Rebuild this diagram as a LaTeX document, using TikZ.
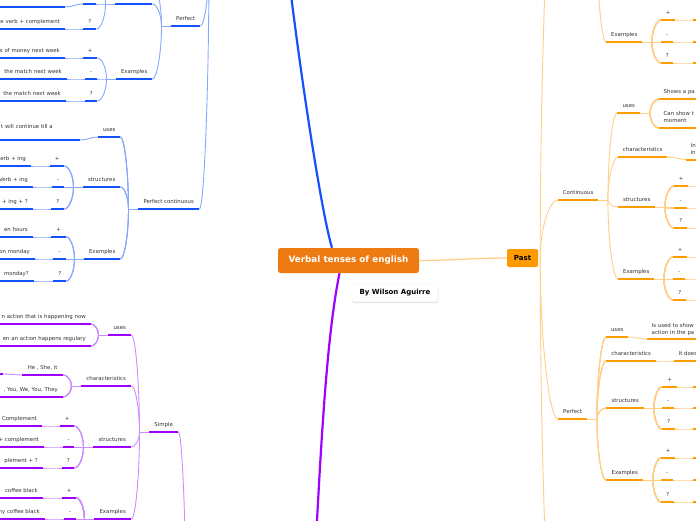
\documentclass[tikz,border=0pt]{standalone}
\usepackage{fontspec}
\setmainfont{DejaVu Sans}
\usepackage{tikz}
\usetikzlibrary{positioning, calc, shadows}
\definecolor{mm-root}{HTML}{EE7B12}
\definecolor{mm-past}{HTML}{FF9A00}
\definecolor{mm-text}{HTML}{333333}
\definecolor{fu-blue}{HTML}{1552FF}
\definecolor{fu-light}{HTML}{88A8FF}
\definecolor{pr-purple}{HTML}{A000FF}
\definecolor{pr-light}{HTML}{CC8CFF}
\definecolor{pa-orange}{HTML}{FF9C00}
\definecolor{pa-light}{HTML}{FFCF8A}

% child end -> joint of its parent
\newcommand{\mmlink}[3]{\draw[#1] (#2) .. controls ($(#2)!0.5!(#3|-#2)$) and ($(#3)!0.5!(#3|-#2)$) .. (#3);}

\tikzset{
    mmtext/.style={font=\fontsize{5.4}{6.8}\selectfont, text=mm-text, inner xsep=0pt, inner ysep=4pt},
    mmnode/.style={mmtext, anchor=south west, text height=4pt, text depth=1pt},
    leafL/.style={mmtext, anchor=south east, text width=100pt, align=right, inner xsep=5pt, text height=4pt, text depth=1pt},
    leafR/.style={mmtext, anchor=south west, text width=70pt, align=left, inner xsep=4.5pt, inner ysep=5pt},
    leafR1/.style={leafR, inner ysep=4pt, text height=4pt, text depth=1pt},
    fu line/.style={line width=2pt, fu-blue},
    fu link/.style={line width=0.9pt, fu-light},
    pr line/.style={line width=2pt, pr-purple},
    pr link/.style={line width=0.9pt, pr-light},
    pa line/.style={line width=2pt, pa-orange},
    pa link/.style={line width=0.9pt, pa-light},
}

\begin{document}
\begin{tikzpicture}[x=1pt, y=-1pt]
    \useasboundingbox (0,0) rectangle (696,520);
    \fill[white] (0,0) rectangle (696,520);
    \clip (0,0) rectangle (696,520);

    % central topic
    \node[fill=mm-root, rounded corners=2.5pt, minimum width=141pt, minimum height=25pt, inner sep=0pt, text=white, font=\fontsize{8.8}{10}\selectfont\bfseries] (root) at (348.5,260.5) {Verbal tenses of english};
    \node[fill=white, draw=black!8, rounded corners=2.5pt, minimum width=86pt, minimum height=18pt, inner sep=0pt, font=\fontsize{7}{8}\selectfont\bfseries, drop shadow={shadow xshift=0.3pt, shadow yshift=-1.2pt, opacity=0.25}] (author) at (395,293) {By Wilson Aguirre};
    \node[fill=mm-past, rounded corners=2pt, minimum width=31pt, minimum height=18pt, inner sep=0pt, font=\fontsize{7}{8}\selectfont\bfseries] (past) at (522.5,258) {Past};

    \coordinate (fuTop) at (288,-30);
    \coordinate (prTop) at (315,560);
    \draw[fu line, line width=2.2pt] ([xshift=-16.5pt]root.north) .. controls (322,215) and (301,80) .. (fuTop);
    \draw[pr line, line width=2.2pt] ([xshift=-9pt]root.south) .. controls (328,330) and (322,420) .. (prTop);
    \draw[pa link, line width=1.3pt] (root.east) to[out=0, in=180] (past.west);

    % blue branch: perfect
    \node[mmnode, minimum width=29pt] (fuPf) at (171,26) {Perfect};
    \node[mmnode, minimum width=37pt] (fuPfSt) at (115,4) {};
    \node[mmnode, minimum width=13pt] (fuPfStA) at (83,4) {};
    \node[mmnode, minimum width=13pt] (fuPfStB) at (83,29) {?};
    \node[mmnode, minimum width=36pt] (fuPfEx) at (116,79) {Examples};
    \node[mmnode, minimum width=14pt] (fuPfExA) at (83,58) {+};
    \node[mmnode, minimum width=12pt] (fuPfExB) at (85,79) {-};
    \node[mmnode, minimum width=12pt] (fuPfExC) at (85,101) {?};
    \node[leafL] (fuPfL1) at (65,7) {};
    \node[leafL] (fuPfL2) at (65,29) {e verb + complement};
    \node[leafL] (fuPfL3) at (65,58) {s of money next week};
    \node[leafL] (fuPfL4) at (67,79) {the match next week};
    \node[leafL] (fuPfL5) at (66,101) {the match next week};

    % blue branch: perfect continuous
    \node[mmnode, minimum width=61pt] (fuPc) at (138,209) {Perfect continuous};
    \node[mmnode, minimum width=22pt] (fuPcUs) at (98,137) {uses};
    \node[mmnode, minimum width=37pt] (fuPcSt) at (83,187) {structures};
    \node[mmnode, minimum width=14pt] (fuPcStA) at (50,166) {+};
    \node[mmnode, minimum width=12pt] (fuPcStB) at (52,187) {-};
    \node[mmnode, minimum width=13pt] (fuPcStC) at (51,209) {?};
    \node[mmnode, minimum width=36pt] (fuPcEx) at (84,259) {Examples};
    \node[mmnode, minimum width=15pt] (fuPcExA) at (51,237) {+};
    \node[mmnode, minimum width=13pt] (fuPcExB) at (53,259) {-};
    \node[mmnode, minimum width=13pt] (fuPcExC) at (53,281) {?};
    \node[leafL, text depth=7.8pt, inner xsep=27pt] (fuPcL0) at (80,140) {t will continue till a};
    \node[leafL] (fuPcL1) at (31,166) {erb + ing};
    \node[leafL] (fuPcL2) at (33,187) {Verb + ing};
    \node[leafL] (fuPcL3) at (33,209) {+ ing + ?};
    \node[leafL] (fuPcL4) at (33,237) {en hours};
    \node[leafL] (fuPcL5) at (35,259) {on monday};
    \node[leafL] (fuPcL6) at (34,281) {monday?};

    % purple branch: simple
    \node[mmnode, minimum width=29pt] (prSi) at (149,432) {Simple};
    \node[mmnode, minimum width=23pt] (prSiUs) at (108,335) {uses};
    \node[mmnode, minimum width=50pt] (prSiCh) at (81,386) {characteristics};
    \node[mmnode, minimum width=41pt] (prSiChA) at (22,375) {He , She, it};
    \node[mmnode, minimum width=38pt] (prSiSt) at (93,447) {structures};
    \node[mmnode, minimum width=14pt] (prSiStA) at (60,426) {+};
    \node[mmnode, minimum width=11pt] (prSiStB) at (63,447) {-};
    \node[mmnode, minimum width=12pt] (prSiStC) at (62,468) {?};
    \node[mmnode, minimum width=37pt] (prSiEx) at (94,519) {Examples};
    \node[mmnode, minimum width=14pt] (prSiExA) at (62,498) {+};
    \node[mmnode, minimum width=12pt] (prSiExB) at (64,519) {-};
    \node[leafL] (prSiL1) at (91,324) {n action that is happening now};
    \node[leafL] (prSiL2) at (91,346) {en an action happens regulary};
    \node[leafL] (prSiL3) at (3,374) {};
    \node[leafL] (prSiL4) at (63,397) {, You, We, You, They};
    \node[leafL] (prSiL5) at (42,426) {Complement};
    \node[leafL] (prSiL6) at (44,447) {+ complement};
    \node[leafL] (prSiL7) at (43,468) {plement + ?};
    \node[leafL] (prSiL8) at (43,498) {coffee black};
    \node[leafL] (prSiL9) at (45,519) {ny coffee black};

    % orange branch: past
    \node[mmnode, minimum width=36pt] (paTEx) at (606,42) {Examples};
    \node[mmnode, minimum width=14pt] (paTExA) at (661,20) {+};
    \node[mmnode, minimum width=12pt] (paTExB) at (661,42) {-};
    \node[mmnode, minimum width=12pt] (paTExC) at (661,63) {?};
    \node[mmnode, minimum width=40pt] (paCo) at (558,200) {Continuous};
    \node[mmnode, minimum width=23pt] (paCoUs) at (617,113) {uses};
    \node[mmnode, minimum width=49pt] (paCoCh) at (618,157) {characteristics};
    \node[mmnode, minimum width=37pt] (paCoSt) at (618,207) {structures};
    \node[mmnode, minimum width=14pt] (paCoStA) at (674,186) {+};
    \node[mmnode, minimum width=13pt] (paCoStB) at (674,208) {-};
    \node[mmnode, minimum width=13pt] (paCoStC) at (674,228) {?};
    \node[mmnode, minimum width=36pt] (paCoEx) at (618,279) {Examples};
    \node[mmnode, minimum width=14pt] (paCoExA) at (673,257) {+};
    \node[mmnode, minimum width=12pt] (paCoExB) at (673,279) {-};
    \node[mmnode, minimum width=13pt] (paCoExC) at (673,300) {?};
    \node[mmnode, minimum width=29pt] (paPf) at (558,419) {Perfect};
    \node[mmnode, minimum width=22pt] (paPfUs) at (606,337) {uses};
    \node[mmnode, minimum width=50pt] (paPfCh) at (606,361) {characteristics};
    \node[mmnode, minimum width=38pt] (paPfSt) at (606,408) {structures};
    \node[mmnode, minimum width=15pt] (paPfStA) at (662,387) {+};
    \node[mmnode, minimum width=12pt] (paPfStB) at (662,408) {-};
    \node[mmnode, minimum width=13pt] (paPfStC) at (662,429) {?};
    \node[mmnode, minimum width=37pt] (paPfEx) at (606,480) {Examples};
    \node[mmnode, minimum width=14pt] (paPfExA) at (661,458) {+};
    \node[mmnode, minimum width=12pt] (paPfExB) at (661,480) {-};
    \node[mmnode, minimum width=13pt] (paPfExC) at (661,502) {?};
    \node[leafR1] (paCoUsL1) at (659,99) {Shows a pa};
    \node[leafR, inner ysep=5.5pt] (paCoUsL2) at (659,128) {Can show t\\moment};
    \node[leafR] (paCoChL) at (686,159.5) {In\\in};
    \node[leafR, inner ysep=3.5pt] (paPfUsL) at (647,339) {Is used to show\\action in the pa};
    \node[leafR1] (paPfChL) at (674,361) {It does};
    \node[leafR1] (paTExL1) at (693,20) {};
    \node[leafR1] (paTExL2) at (693,42) {};
    \node[leafR1] (paTExL3) at (693,63) {};
    \node[leafR1] (paCoStL1) at (712,186) {};
    \node[leafR1] (paCoStL2) at (712,208) {};
    \node[leafR1] (paCoStL3) at (712,228) {};
    \node[leafR1] (paCoExL1) at (712,257) {};
    \node[leafR1] (paCoExL2) at (712,279) {};
    \node[leafR1] (paCoExL3) at (712,300) {};
    \node[leafR1] (paPfStL1) at (693,387) {};
    \node[leafR1] (paPfStL2) at (693,408) {};
    \node[leafR1] (paPfStL3) at (693,429) {};
    \node[leafR1] (paPfExL1) at (693,458) {};
    \node[leafR1] (paPfExL2) at (693,480) {};
    \node[leafR1] (paPfExL3) at (693,502) {};

    % joints
    \coordinate (fuJ) at (209,-40);
    \coordinate (fuPfUp) at (152,-18);
    \coordinate (fuPfStUp) at (96,-17);
    \coordinate (prJ) at (186,620);
    \coordinate (paJ) at ([xshift=2pt]past.east);
    \coordinate (paUp) at (572,-300);
    \coordinate (paDown) at (572,830);
    \coordinate (paTJ) at (597,-60);
    \foreach \n in {fuPf, fuPfSt, fuPfEx, fuPc, fuPcUs, fuPcSt, fuPcEx, prSi, prSiUs, prSiCh, prSiSt, prSiEx}
        \coordinate (\n J) at ([xshift=-9.5pt]\n.south west);
    \foreach \n in {paTEx, paCo, paCoUs, paCoSt, paCoEx, paPf, paPfSt, paPfEx}
        \coordinate (\n J) at ([xshift=9.5pt]\n.south east);

    % blue links
    \mmlink{fu link}{fuPf.south east}{fuJ}
    \mmlink{fu link}{fuPc.south east}{fuJ}
    \mmlink{fu link}{fuPfUp}{fuPfJ}
    \mmlink{fu link}{fuPfSt.south east}{fuPfJ}
    \mmlink{fu link}{fuPfEx.south east}{fuPfJ}
    \mmlink{fu link}{fuPfStUp}{fuPfStJ}
    \mmlink{fu link}{fuPfStA.south east}{fuPfStJ}
    \mmlink{fu link}{fuPfStB.south east}{fuPfStJ}
    \foreach \c in {A,B,C} \mmlink{fu link}{fuPfEx\c.south east}{fuPfExJ}
    \mmlink{fu link}{fuPcUs.south east}{fuPcJ}
    \mmlink{fu link}{fuPcSt.south east}{fuPcJ}
    \mmlink{fu link}{fuPcEx.south east}{fuPcJ}
    \foreach \c in {A,B,C} {
        \mmlink{fu link}{fuPcSt\c.south east}{fuPcStJ}
        \mmlink{fu link}{fuPcEx\c.south east}{fuPcExJ}
    }
    \foreach \n in {fuPf, fuPfSt, fuPfEx, fuPc, fuPcSt, fuPcEx}
        \draw[fu link] (\n J) -- (\n.south west);
    \draw[fu link] (fuPfL1.south east) to[out=0, in=180] (fuPfStA.south west);
    \draw[fu link] (fuPfL2.south east) to[out=0, in=180] (fuPfStB.south west);
    \draw[fu link] (fuPfL3.south east) to[out=0, in=180] (fuPfExA.south west);
    \draw[fu link] (fuPfL4.south east) to[out=0, in=180] (fuPfExB.south west);
    \draw[fu link] (fuPfL5.south east) to[out=0, in=180] (fuPfExC.south west);
    \draw[fu link] (fuPcL0.south east) to[out=0, in=180] (fuPcUs.south west);
    \draw[fu link] (fuPcL1.south east) to[out=0, in=180] (fuPcStA.south west);
    \draw[fu link] (fuPcL2.south east) to[out=0, in=180] (fuPcStB.south west);
    \draw[fu link] (fuPcL3.south east) to[out=0, in=180] (fuPcStC.south west);
    \draw[fu link] (fuPcL4.south east) to[out=0, in=180] (fuPcExA.south west);
    \draw[fu link] (fuPcL5.south east) to[out=0, in=180] (fuPcExB.south west);
    \draw[fu link] (fuPcL6.south east) to[out=0, in=180] (fuPcExC.south west);

    % purple links
    \mmlink{pr link}{prSi.south east}{prJ}
    \foreach \n in {Us, Ch, St, Ex} \mmlink{pr link}{prSi\n.south east}{prSiJ}
    \mmlink{pr link}{prSiL1.south east}{prSiUsJ}
    \mmlink{pr link}{prSiL2.south east}{prSiUsJ}
    \mmlink{pr link}{prSiChA.south east}{prSiChJ}
    \mmlink{pr link}{prSiL4.south east}{prSiChJ}
    \foreach \c in {A,B,C} \mmlink{pr link}{prSiSt\c.south east}{prSiStJ}
    \foreach \c in {A,B} \mmlink{pr link}{prSiEx\c.south east}{prSiExJ}
    \foreach \n in {prSi, prSiUs, prSiCh, prSiSt, prSiEx}
        \draw[pr link] (\n J) -- (\n.south west);
    \draw[pr link] (prSiL3.south east) to[out=0, in=180] (prSiChA.south west);
    \draw[pr link] (prSiL5.south east) to[out=0, in=180] (prSiStA.south west);
    \draw[pr link] (prSiL6.south east) to[out=0, in=180] (prSiStB.south west);
    \draw[pr link] (prSiL7.south east) to[out=0, in=180] (prSiStC.south west);
    \draw[pr link] (prSiL8.south east) to[out=0, in=180] (prSiExA.south west);
    \draw[pr link] (prSiL9.south east) to[out=0, in=180] (prSiExB.south west);

    % orange links
    \mmlink{pa link}{paUp}{paJ}
    \mmlink{pa link}{paCo.south west}{paJ}
    \mmlink{pa link}{paPf.south west}{paJ}
    \mmlink{pa link}{paDown}{paJ}
    \mmlink{pa link}{paTEx.south west}{paTJ}
    \foreach \n in {Us, Ch, St, Ex} \mmlink{pa link}{paCo\n.south west}{paCoJ}
    \foreach \n in {Us, Ch, St, Ex} \mmlink{pa link}{paPf\n.south west}{paPfJ}
    \mmlink{pa link}{paCoUsL1.south west}{paCoUsJ}
    \mmlink{pa link}{paCoUsL2.south west}{paCoUsJ}
    \foreach \c in {A,B,C} {
        \mmlink{pa link}{paTEx\c.south west}{paTExJ}
        \mmlink{pa link}{paCoSt\c.south west}{paCoStJ}
        \mmlink{pa link}{paCoEx\c.south west}{paCoExJ}
        \mmlink{pa link}{paPfSt\c.south west}{paPfStJ}
        \mmlink{pa link}{paPfEx\c.south west}{paPfExJ}
    }
    \foreach \n in {paTEx, paCo, paCoUs, paCoSt, paCoEx, paPf, paPfSt, paPfEx}
        \draw[pa link] (\n.south east) -- (\n J);
    \draw[pa link] (paCoCh.south east) to[out=0, in=180] (paCoChL.south west);
    \draw[pa link] (paPfUs.south east) to[out=0, in=180] (paPfUsL.south west);
    \draw[pa link] (paPfCh.south east) to[out=0, in=180] (paPfChL.south west);
    \foreach \g/\i in {TEx/1, TEx/2, TEx/3, CoSt/1, CoSt/2, CoSt/3, CoEx/1, CoEx/2, CoEx/3, PfSt/1, PfSt/2, PfSt/3, PfEx/1, PfEx/2, PfEx/3} {
        \ifcase\i\or\def\c{A}\or\def\c{B}\or\def\c{C}\fi
        \draw[pa link] (pa\g\c.south east) to[out=0, in=180] (pa\g L\i.south west);
    }

    % underlines
    \foreach \n in {fuPf, fuPfSt, fuPfStA, fuPfStB, fuPfEx, fuPfExA, fuPfExB, fuPfExC, fuPfL1, fuPfL2, fuPfL3, fuPfL4, fuPfL5, fuPc, fuPcUs, fuPcSt, fuPcStA, fuPcStB, fuPcStC, fuPcEx, fuPcExA, fuPcExB, fuPcExC, fuPcL0, fuPcL1, fuPcL2, fuPcL3, fuPcL4, fuPcL5, fuPcL6}
        \draw[fu line] (\n.south west) -- (\n.south east);
    \foreach \n in {prSi, prSiUs, prSiCh, prSiChA, prSiSt, prSiStA, prSiStB, prSiStC, prSiEx, prSiExA, prSiExB, prSiL1, prSiL2, prSiL3, prSiL4, prSiL5, prSiL6, prSiL7, prSiL8, prSiL9}
        \draw[pr line] (\n.south west) -- (\n.south east);
    \foreach \n in {paTEx, paTExA, paTExB, paTExC, paCo, paCoUs, paCoCh, paCoSt, paCoStA, paCoStB, paCoStC, paCoEx, paCoExA, paCoExB, paCoExC, paPf, paPfUs, paPfCh, paPfSt, paPfStA, paPfStB, paPfStC, paPfEx, paPfExA, paPfExB, paPfExC, paCoUsL1, paCoUsL2, paCoChL, paPfUsL, paPfChL, paTExL1, paTExL2, paTExL3, paPfStL1, paPfStL2, paPfStL3, paPfExL1, paPfExL2, paPfExL3}
        \draw[pa line] (\n.south west) -- (\n.south east);
\end{tikzpicture}
\end{document}
